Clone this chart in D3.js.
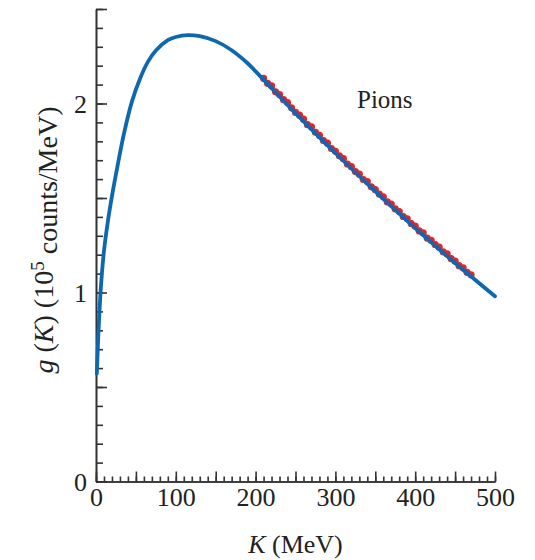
<!DOCTYPE html>
<html>
<head>
<meta charset="utf-8">
<script src="https://cdn.jsdelivr.net/npm/d3@7"></script>
<style>
  html, body { margin: 0; padding: 0; background: #fff; }
  svg { display: block; }
  text { font-family: "Liberation Serif", "Times New Roman", serif; fill: #222; }
</style>
</head>
<body>
<div id="chart"></div>
<script>
// ---- Data ----
const curveK = [1, 3, 6, 10, 15, 20, 27, 35, 45, 55, 65, 75, 90, 100, 115, 130, 150, 170, 190, 200, 250, 300, 350, 400, 450, 500];
const curveG = [0.57, 0.78, 1.02, 1.22, 1.38, 1.51, 1.67, 1.84, 2.01, 2.13, 2.22, 2.28, 2.335, 2.352, 2.362, 2.356, 2.33, 2.282, 2.213, 2.17, 1.949, 1.738, 1.535, 1.341, 1.156, 0.98];

const pointK = [210, 215, 220, 225, 230, 235, 240, 245, 250, 255, 260, 265, 270, 275, 280, 285, 290, 295, 300, 305, 310, 315, 320, 325, 330, 335, 340, 345, 350, 355, 360, 365, 370, 375, 380, 385, 390, 395, 400, 405, 410, 415, 420, 425, 430, 435, 440, 445, 450, 455, 460, 465, 470];
const pointG = [2.133, 2.107, 2.093, 2.062, 2.047, 2.020, 2.005, 1.977, 1.953, 1.938, 1.917, 1.888, 1.876, 1.848, 1.831, 1.804, 1.790, 1.762, 1.747, 1.723, 1.708, 1.680, 1.666, 1.640, 1.626, 1.598, 1.587, 1.559, 1.544, 1.521, 1.506, 1.479, 1.468, 1.442, 1.428, 1.402, 1.390, 1.365, 1.351, 1.326, 1.315, 1.288, 1.276, 1.254, 1.240, 1.215, 1.204, 1.179, 1.166, 1.142, 1.131, 1.107, 1.094];

const xMajorTicks = [0, 50, 100, 150, 200, 250, 300, 350, 400, 450, 500];
const xLabelTicks = [0, 100, 200, 300, 400, 500];
const yMajorTicks = [0, 0.5, 1, 1.5, 2, 2.5];
const yLabelTicks = [0, 1, 2];
const xMinorStep = 10;
const yMinorStep = 0.1;

// ---- Layout ----
const W = 535, H = 560;
const x0 = 96, x1 = 495, y0 = 481.5, yTop = 9;

const svg = d3.select("#chart").append("svg").attr("width", W).attr("height", H);

const x = d3.scaleLinear().domain([0, 500]).range([x0, x1]);
const y = d3.scaleLinear().domain([0, 2.5]).range([y0, yTop]);

const xMinor = d3.range(0, 500 + 1e-9, xMinorStep).map(v => Math.round(v));
const yMinor = d3.range(0, 2.5 + 1e-9, yMinorStep).map(v => Math.round(v * 10) / 10);

const axisColor = "#333";

const gyMinor = svg.append("g").attr("transform", `translate(${x0},0)`)
  .call(d3.axisLeft(y).tickValues(yMinor).tickSizeInner(-7).tickSizeOuter(0).tickFormat(""));
const gyMajor = svg.append("g").attr("transform", `translate(${x0},0)`)
  .call(d3.axisLeft(y).tickValues(yMajorTicks).tickSizeInner(-11).tickSizeOuter(0).tickFormat(""));
const gyLab = svg.append("g").attr("transform", `translate(${x0},0)`)
  .call(d3.axisLeft(y).tickValues(yLabelTicks).tickSize(0).tickPadding(9).tickFormat(d3.format("d")));

const gxMinor = svg.append("g").attr("transform", `translate(0,${y0})`)
  .call(d3.axisBottom(x).tickValues(xMinor).tickSizeInner(-5).tickSizeOuter(0).tickFormat(""));
const gxMajor = svg.append("g").attr("transform", `translate(0,${y0})`)
  .call(d3.axisBottom(x).tickValues(xMajorTicks).tickSizeInner(-10).tickSizeOuter(0).tickFormat(""));
const gxLab = svg.append("g").attr("transform", `translate(0,${y0})`)
  .call(d3.axisBottom(x).tickValues(xLabelTicks).tickSize(0).tickPadding(6).tickFormat(d3.format("d")));

[gyMinor, gyMajor, gyLab, gxMinor, gxMajor, gxLab].forEach(g => {
  g.selectAll("path.domain").attr("stroke", axisColor).attr("stroke-width", 1.6);
  g.selectAll(".tick line").attr("stroke", axisColor).attr("stroke-width", 1.6);
});
[gyLab, gxLab].forEach(g => {
  g.selectAll("path.domain").remove();
  g.selectAll(".tick text")
    .style("font-family", '"Liberation Serif", "Times New Roman", serif')
    .style("font-size", "26px").attr("fill", "#222");
});
gyLab.selectAll(".tick text").attr("dy", "0.36em");
gxLab.selectAll(".tick text").attr("dy", "0.72em");

// Data points (red) beneath the fitted curve
const pts = pointK.map((k, i) => ({ k, g: pointG[i] }));
svg.append("g").selectAll("circle").data(pts).join("circle")
  .attr("cx", d => x(d.k)).attr("cy", d => y(d.g)).attr("r", 3.6)
  .attr("fill", "#e3242b");

// Fitted curve (blue)
const curve = curveK.map((k, i) => ({ k, g: curveG[i] }));
svg.append("path").datum(curve)
  .attr("fill", "none").attr("stroke", "#0d68b0").attr("stroke-width", 3.8)
  .attr("stroke-linecap", "round")
  .attr("d", d3.line().x(d => x(d.k)).y(d => y(d.g)).curve(d3.curveCatmullRom.alpha(0.5)));

// Label
svg.append("text").attr("x", 357).attr("y", 108)
  .style("font-size", "25px").text("Pions");

// X axis title
const xt = svg.append("text").attr("x", (x0 + x1) / 2).attr("y", 553)
  .attr("text-anchor", "middle").style("font-size", "26px");
xt.append("tspan").style("font-style", "italic").text("K");
xt.append("tspan").text(" (MeV)");

// Y axis title
const yt = svg.append("text").attr("transform", `translate(53,240) rotate(-90)`)
  .attr("text-anchor", "middle").style("font-size", "28px");
yt.append("tspan").style("font-style", "italic").text("g");
yt.append("tspan").text(" (");
yt.append("tspan").style("font-style", "italic").text("K");
yt.append("tspan").text(") (10");
yt.append("tspan").attr("dy", "-0.45em").style("font-size", "19px").text("5");
yt.append("tspan").attr("dy", "0.45em").text(" counts/MeV)");
</script>
</body>
</html>
